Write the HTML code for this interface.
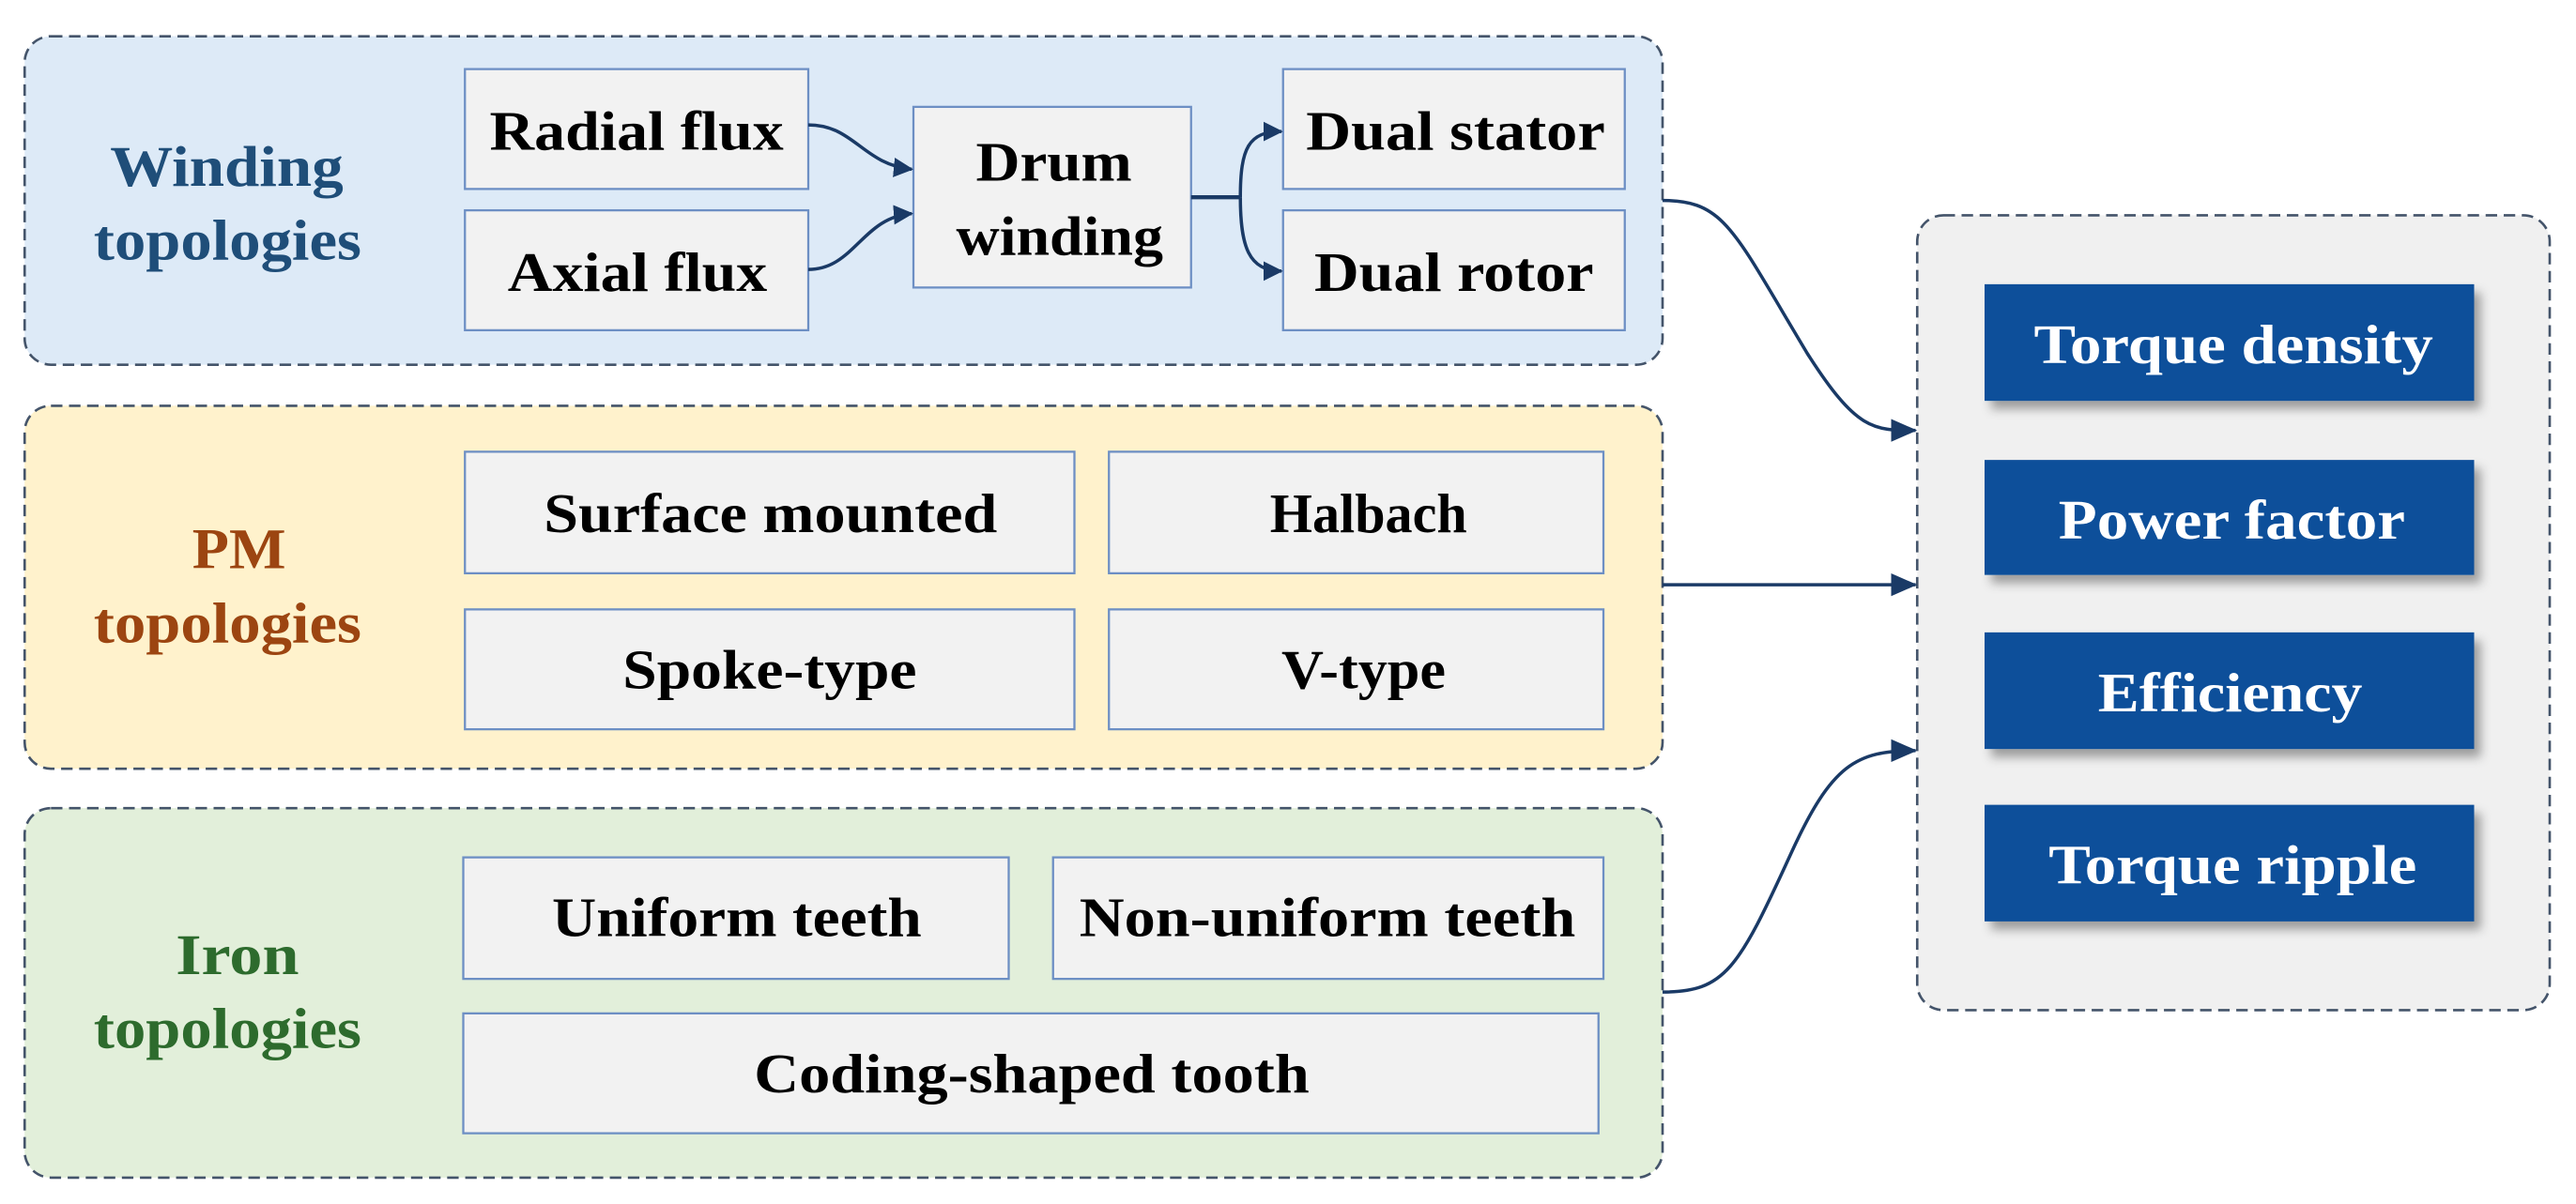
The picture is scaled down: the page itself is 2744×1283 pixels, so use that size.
<!DOCTYPE html>
<html><head><meta charset="utf-8"><style>
html,body{margin:0;padding:0;background:#fff;}
svg{display:block;}
text{font-family:"Liberation Serif",serif;font-weight:bold;}
</style></head><body>
<svg width="2744" height="1283" viewBox="0 0 1568 733" xmlns="http://www.w3.org/2000/svg">
<defs>
<marker id="ah" markerWidth="16" markerHeight="14" refX="15" refY="7" orient="auto" markerUnits="userSpaceOnUse">
<path d="M0,0 L16,7 L0,14 z" fill="#1a3a66"/></marker>
<marker id="ah2" markerWidth="12" markerHeight="12" refX="11" refY="6" orient="auto" markerUnits="userSpaceOnUse">
<path d="M0,0 L12,6 L0,12 z" fill="#1a3a66"/></marker>
<filter id="sh" x="-10%" y="-10%" width="130%" height="140%"><feDropShadow dx="4" dy="5" stdDeviation="3" flood-color="#000" flood-opacity="0.35"/></filter>
</defs>
<g stroke="#44546a" stroke-width="1.5" stroke-dasharray="7,4">
<rect x="15" y="22" width="997" height="200" rx="16" fill="#ddeaf7"/>
<rect x="15" y="247" width="997" height="221" rx="16" fill="#fff2cc"/>
<rect x="15" y="492" width="997" height="225" rx="16" fill="#e2efda"/>
<rect x="1167" y="131" width="385" height="484" rx="16" fill="#f0f0f0"/>
</g>
<g font-size="35" lengthAdjust="spacingAndGlyphs">
<text x="67" y="113" fill="#1f4e79" textLength="142" lengthAdjust="spacingAndGlyphs">Winding</text>
<text x="57" y="158" fill="#1f4e79" textLength="163" lengthAdjust="spacingAndGlyphs">topologies</text>
<text x="117" y="346" fill="#9c4511" textLength="57" lengthAdjust="spacingAndGlyphs">PM</text>
<text x="57" y="391" fill="#9c4511" textLength="163" lengthAdjust="spacingAndGlyphs">topologies</text>
<text x="107" y="593" fill="#2d6b2d" textLength="75" lengthAdjust="spacingAndGlyphs">Iron</text>
<text x="57" y="638" fill="#2d6b2d" textLength="163" lengthAdjust="spacingAndGlyphs">topologies</text>
</g>
<g fill="#f2f2f2" stroke="#6d8fc4" stroke-width="1.3">
<rect x="283" y="42" width="209" height="73"/>
<rect x="283" y="128" width="209" height="73"/>
<rect x="556" y="65" width="169" height="110"/>
<rect x="781" y="42" width="208" height="73"/>
<rect x="781" y="128" width="208" height="73"/>
<rect x="283" y="275" width="371" height="74"/>
<rect x="675" y="275" width="301" height="74"/>
<rect x="283" y="371" width="371" height="73"/>
<rect x="675" y="371" width="301" height="73"/>
<rect x="282" y="522" width="332" height="74"/>
<rect x="641" y="522" width="335" height="74"/>
<rect x="282" y="617" width="691" height="73"/>
</g>
<g font-size="34" fill="#000">
<text x="298" y="91" textLength="179" lengthAdjust="spacingAndGlyphs">Radial flux</text>
<text x="309" y="177" textLength="158" lengthAdjust="spacingAndGlyphs">Axial flux</text>
<text x="594" y="110" textLength="95" lengthAdjust="spacingAndGlyphs">Drum</text>
<text x="582" y="155" textLength="126" lengthAdjust="spacingAndGlyphs">winding</text>
<text x="795" y="91" textLength="182" lengthAdjust="spacingAndGlyphs">Dual stator</text>
<text x="800" y="177" textLength="170" lengthAdjust="spacingAndGlyphs">Dual rotor</text>
<text x="331" y="324" textLength="276" lengthAdjust="spacingAndGlyphs">Surface mounted</text>
<text x="773" y="324" textLength="120" lengthAdjust="spacingAndGlyphs">Halbach</text>
<text x="379" y="419" textLength="179" lengthAdjust="spacingAndGlyphs">Spoke-type</text>
<text x="780" y="419" textLength="100" lengthAdjust="spacingAndGlyphs">V-type</text>
<text x="336" y="570" textLength="225" lengthAdjust="spacingAndGlyphs">Uniform teeth</text>
<text x="657" y="570" textLength="302" lengthAdjust="spacingAndGlyphs">Non-uniform teeth</text>
<text x="459" y="665" textLength="338" lengthAdjust="spacingAndGlyphs">Coding-shaped tooth</text>
</g>
<g fill="#0b4f9a" filter="url(#sh)">
<rect x="1208" y="173" width="298" height="71"/>
<rect x="1208" y="280" width="298" height="70"/>
<rect x="1208" y="385" width="298" height="71"/>
<rect x="1208" y="490" width="298" height="71"/>
</g>
<g font-size="34" fill="#fff">
<text x="1238" y="221" textLength="243" lengthAdjust="spacingAndGlyphs">Torque density</text>
<text x="1253" y="328" textLength="211" lengthAdjust="spacingAndGlyphs">Power factor</text>
<text x="1277" y="433" textLength="161" lengthAdjust="spacingAndGlyphs">Efficiency</text>
<text x="1247" y="538" textLength="224" lengthAdjust="spacingAndGlyphs">Torque ripple</text>
</g>
<g fill="none" stroke="#1a3a66" stroke-width="2">
<path d="M492,76 C520,76 525,100 555,103" marker-end="url(#ah2)"/>
<path d="M492,164 C520,164 525,132 555,130" marker-end="url(#ah2)"/>
<path d="M725,120 L755,120" stroke-width="2.5"/>
<path d="M755,120 C755,90 760,80 780,80" marker-end="url(#ah2)"/>
<path d="M755,120 C755,150 760,165 780,165" marker-end="url(#ah2)"/>
<path d="M1012,122 C1050,122 1055,140 1100,215 C1130,262 1140,262 1166,262" marker-end="url(#ah)"/>
<path d="M1012,356 L1166,356" marker-end="url(#ah)"/>
<path d="M1012,604 C1050,604 1058,590 1090,520 C1115,465 1130,457 1166,457" marker-end="url(#ah)"/>
</g>
</svg>
</body></html>
